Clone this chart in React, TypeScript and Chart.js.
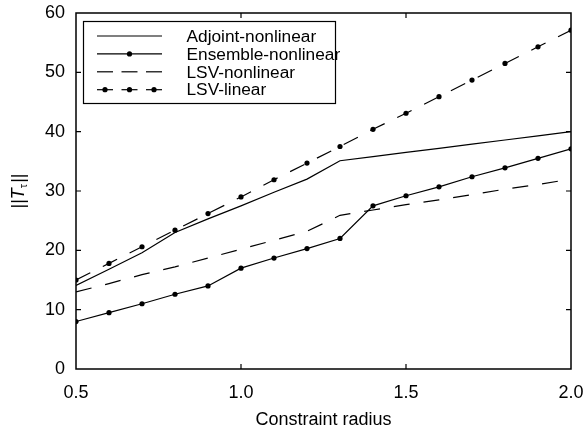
import React, { useEffect, useRef } from "react";
import { Chart, registerables } from "chart.js";

Chart.register(...registerables);

const radius = [0.5, 0.6, 0.7, 0.8, 0.9, 1.0, 1.1, 1.2, 1.3, 1.4, 1.5, 1.6, 1.7, 1.8, 1.9, 2.0];
const adjointNonlinear = [14.1, 16.8, 19.6, 23.0, 25.3, 27.5, 29.8, 32.0, 35.1, 35.8, 36.5, 37.2, 37.9, 38.6, 39.3, 40.0];
const ensembleNonlinear = [8.0, 9.5, 11.0, 12.6, 14.0, 17.0, 18.7, 20.3, 22.0, 27.5, 29.2, 30.7, 32.4, 33.9, 35.5, 37.1];
const lsvNonlinear = [13.0, 14.4, 15.9, 17.2, 18.7, 20.2, 21.7, 23.2, 25.9, 26.8, 27.7, 28.5, 29.4, 30.3, 31.1, 32.0];
const lsvLinear = [15.0, 17.8, 20.6, 23.4, 26.2, 29.0, 31.9, 34.7, 37.5, 40.4, 43.1, 45.9, 48.7, 51.5, 54.3, 57.1];
const seriesNames = ["Adjoint-nonlinear", "Ensemble-nonlinear", "LSV-nonlinear", "LSV-linear"];
const xTitle = "Constraint radius";

const FONT = "'Liberation Sans', Arial, sans-serif";

const framePlugin = {
  id: "frame",
  afterDraw(chart: any) {
    const { ctx, chartArea: a, scales } = chart;
    ctx.save();
    ctx.strokeStyle = "#000";
    ctx.lineWidth = 1.5;
    ctx.strokeRect(a.left, a.top, a.right - a.left, a.bottom - a.top);
    ctx.lineWidth = 1.2;
    const tl = 5;
    const xs = scales.x;
    const ys = scales.y;
    xs.ticks.forEach((t: any) => {
      const px = xs.getPixelForValue(t.value);
      if (px <= a.left + 1 || px >= a.right - 1) return;
      ctx.beginPath();
      ctx.moveTo(px, a.bottom);
      ctx.lineTo(px, a.bottom - tl);
      ctx.moveTo(px, a.top);
      ctx.lineTo(px, a.top + tl);
      ctx.stroke();
    });
    ys.ticks.forEach((t: any) => {
      const py = ys.getPixelForValue(t.value);
      if (py <= a.top + 1 || py >= a.bottom - 1) return;
      ctx.beginPath();
      ctx.moveTo(a.left, py);
      ctx.lineTo(a.left + tl, py);
      ctx.moveTo(a.right, py);
      ctx.lineTo(a.right - tl, py);
      ctx.stroke();
    });

    // Y axis title with subscript
    ctx.translate(19, (a.top + a.bottom) / 2);
    ctx.rotate(-Math.PI / 2);
    ctx.fillStyle = "#000";
    ctx.textBaseline = "middle";
    const big = `18px ${FONT}`;
    const it = `italic 18px ${FONT}`;
    const small = `11px ${FONT}`;
    ctx.font = big;
    const w1 = ctx.measureText("||").width;
    ctx.font = it;
    const w2 = ctx.measureText("T").width;
    ctx.font = small;
    const w3 = ctx.measureText("\u03C4").width;
    const total = w1 + w2 + w3 + w1 + 1;
    let x = -total / 2;
    ctx.textAlign = "left";
    ctx.font = big;
    ctx.fillText("||", x, 0);
    x += w1;
    ctx.font = it;
    ctx.fillText("T", x, 0);
    x += w2;
    ctx.font = small;
    ctx.fillText("\u03C4", x, 5);
    x += w3 + 1;
    ctx.font = big;
    ctx.fillText("||", x, 0);
    ctx.restore();
  },
};

const legendPlugin = {
  id: "customLegend",
  afterDraw(chart: any) {
    const { ctx } = chart;
    const boxL = 83.5, boxT = 21.5, boxW = 252, boxH = 82;
    ctx.save();
    ctx.fillStyle = "#fff";
    ctx.fillRect(boxL, boxT, boxW, boxH);
    ctx.strokeStyle = "#000";
    ctx.lineWidth = 1.2;
    ctx.strokeRect(boxL, boxT, boxW, boxH);
    const x0 = 97, x1 = 162;
    chart.data.datasets.forEach((ds: any, i: number) => {
      const y = 36 + i * 17.9;
      ctx.strokeStyle = "#000";
      ctx.lineWidth = 1.2;
      if (ds.borderDash && ds.borderDash.length) {
        const segs = [[97, 113], [121.5, 137.5], [146, 162]];
        segs.forEach(([a, b]) => {
          ctx.beginPath();
          ctx.moveTo(a, y);
          ctx.lineTo(b, y);
          ctx.stroke();
        });
        if (ds.pointRadius > 0) {
          segs.forEach(([a, b]) => {
            ctx.beginPath();
            ctx.arc((a + b) / 2, y, ds.pointRadius, 0, Math.PI * 2);
            ctx.fillStyle = "#000";
            ctx.fill();
          });
        }
      } else {
        ctx.beginPath();
        ctx.moveTo(x0, y);
        ctx.lineTo(x1, y);
        ctx.stroke();
        if (ds.pointRadius > 0) {
          ctx.beginPath();
          ctx.arc((x0 + x1) / 2, y, ds.pointRadius, 0, Math.PI * 2);
          ctx.fillStyle = "#000";
          ctx.fill();
        }
      }
      ctx.fillStyle = "#000";
      ctx.font = `17.3px ${FONT}`;
      ctx.textBaseline = "middle";
      ctx.textAlign = "left";
      ctx.fillText(ds.label, 186.5, y + 1);
    });
    ctx.restore();
  },
};

function makeData(vals: number[]) {
  return radius.map((r, i) => ({ x: r, y: vals[i] }));
}

export default function App() {
  const ref = useRef<HTMLCanvasElement>(null);
  useEffect(() => {
    const canvas = ref.current!;
    const common = { borderColor: "#000", backgroundColor: "#000", borderWidth: 1.2, pointBorderWidth: 0, pointHoverRadius: 0 };
    const chart = new Chart(canvas, {
      type: "line",
      data: {
        datasets: [
          { ...common, label: seriesNames[0], data: makeData(adjointNonlinear), pointRadius: 0, borderDash: [] },
          { ...common, label: seriesNames[1], data: makeData(ensembleNonlinear), pointRadius: 2.6, borderDash: [] },
          { ...common, label: seriesNames[2], data: makeData(lsvNonlinear), pointRadius: 0, borderDash: [16, 14] },
          { ...common, label: seriesNames[3], data: makeData(lsvLinear), pointRadius: 2.6, borderDash: [16, 14] },
        ],
      },
      options: {
        animation: false,
        responsive: false,
        maintainAspectRatio: false,
        layout: { padding: { left: 0, right: 13, top: 13, bottom: 0 } },
        plugins: { legend: { display: false }, tooltip: { enabled: false }, title: { display: false } },
        scales: {
          x: {
            type: "linear",
            min: 0.5,
            max: 2.0,
            grid: { display: false, drawTicks: false },
            border: { display: false },
            ticks: {
              stepSize: 0.5,
              color: "#000",
              font: { family: FONT, size: 18 },
              padding: 13,
              maxRotation: 0,
              callback: (v: any) => Number(v).toFixed(1),
            },
            title: { display: true, text: xTitle, color: "#000", font: { family: FONT, size: 18 }, padding: { top: 0, bottom: 1 } },
            afterFit: (s: any) => { s.height = 63; s.paddingLeft = 0; s.paddingRight = 0; },
          },
          y: {
            min: 0,
            max: 60,
            grid: { display: false, drawTicks: false },
            border: { display: false },
            ticks: { stepSize: 10, color: "#000", font: { family: FONT, size: 18 }, padding: 11 },
            afterFit: (s: any) => { s.width = 76; s.paddingTop = 0; s.paddingBottom = 0; },
          },
        },
      },
      plugins: [framePlugin, legendPlugin],
    });
    return () => chart.destroy();
  }, []);
  return (
    <div style={{ position: "fixed", left: 0, top: 0, width: 584, height: 432, background: "#fff" }}>
      <canvas ref={ref} width={584} height={432} style={{ width: 584, height: 432, display: "block" }} />
    </div>
  );
}
